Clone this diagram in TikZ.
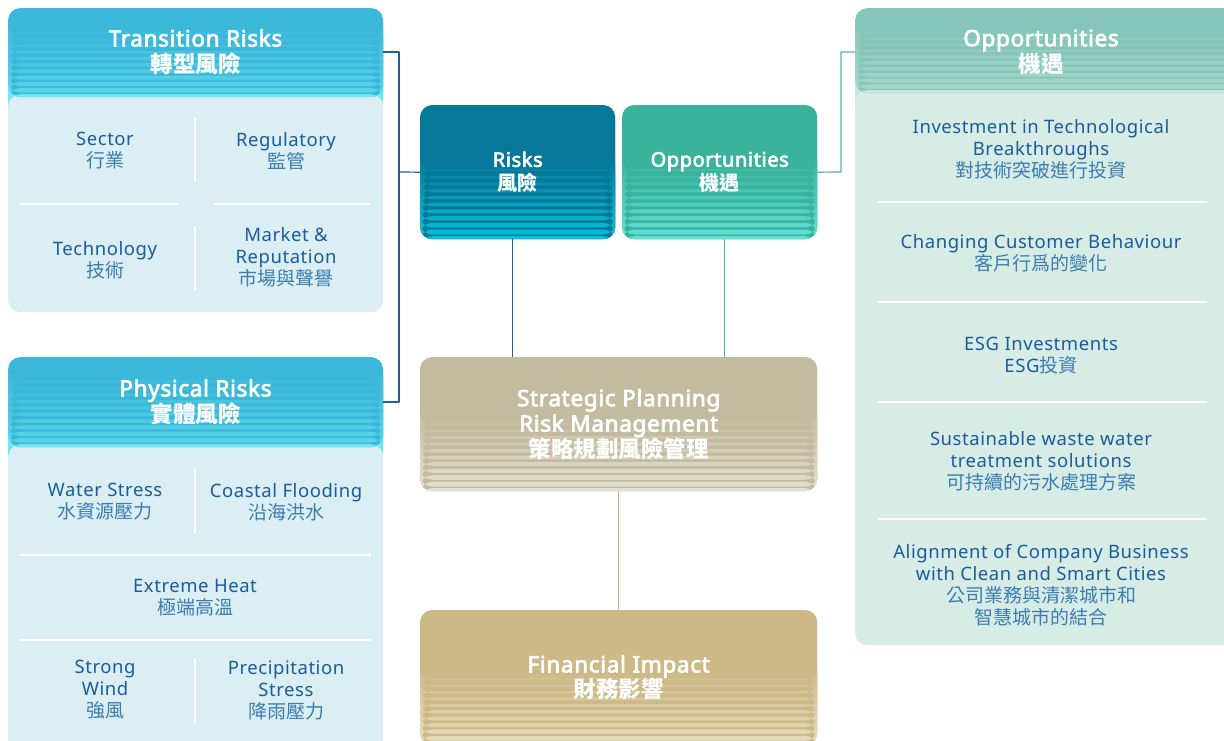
\documentclass[tikz,border=0pt]{standalone}
\usepackage{fontspec}
\setmainfont{Noto Sans}[LetterSpace=3]
\newfontfamily\hdfont{Noto Sans}[LetterSpace=3,FakeBold=3.2]
\newfontfamily\cjk{Noto Sans CJK TC}
\definecolor{trbase}{HTML}{3BB7D9}
\definecolor{trlight}{HTML}{5AD8EA}
\definecolor{trrim}{HTML}{6EE8F3}
\definecolor{trbody}{HTML}{DAEEF3}
\definecolor{opbase}{HTML}{86C5B9}
\definecolor{oplight}{HTML}{A8DACE}
\definecolor{oprim}{HTML}{C4E6DD}
\definecolor{opbody}{HTML}{D8ECE6}
\definecolor{rkbase}{HTML}{06799B}
\definecolor{rklight}{HTML}{06C4DC}
\definecolor{gnbase}{HTML}{3AB39C}
\definecolor{gnlight}{HTML}{62E3D6}
\definecolor{stbase}{HTML}{C2BB9F}
\definecolor{stlight}{HTML}{E6E2D3}
\definecolor{fnbase}{HTML}{CDB888}
\definecolor{fnlight}{HTML}{E9DFC2}
\definecolor{txblue}{HTML}{1A5C9C}
\definecolor{zhblue}{HTML}{3C7DB0}
\definecolor{rline}{HTML}{1F5FA3}
\definecolor{oline}{HTML}{4DB6A6}
\definecolor{tline}{HTML}{C8B48C}
% banded fill of a header: start of bands, height, base, light, rim
\newcommand\stripes[5]{%
  \fill[#3] (path picture bounding box.north west) rectangle ([yshift=-#2pt]path picture bounding box.north east);
  \foreach \k in {0,...,9}{%
    \pgfmathsetmacro\ya{#1+(#2-#1-3)*\k/10}%
    \pgfmathsetmacro\hb{(#2-#1-3)/10*(0.3+0.05*\k)}%
    \pgfmathtruncatemacro\mx{15+8*\k}%
    \fill[#4!\mx!#3] ([yshift=-\ya pt]path picture bounding box.north west) rectangle ([yshift=-\ya pt-\hb pt]path picture bounding box.north east);
  }
  \fill[#5] ([yshift=-#2pt+3pt]path picture bounding box.north west) rectangle ([yshift=-#2pt]path picture bounding box.north east);
}
\newcommand\zh[1]{{\cjk\fontsize{19}{22}\selectfont\color{zhblue}#1}}
\begin{document}
\begin{tikzpicture}[x=1pt,y=-1pt,line join=round,
    panel/.style={rounded corners=12pt,fill=#1,inner sep=0pt,anchor=north west},
    box/.style={rounded corners=12pt,fill=#1,inner sep=0pt,anchor=north west,text=white,align=center,
      font=\hdfont\fontsize{22.5}{25.5}\selectfont},
    title/.style={text=white,align=center,font=\hdfont\fontsize{22.5}{26}\selectfont},
    item/.style={text=txblue,align=center,font=\fontsize{18.5}{22}\selectfont},
    sep/.style={white,line width=2pt},
    rl/.style={rline,line width=1.2pt},
    ol/.style={oline,line width=1.2pt},
    tl/.style={tline,line width=1.2pt}]
\useasboundingbox (0,0) rectangle (1224,741);
% side panels
\node[panel=trbody,minimum width=375pt,minimum height=304pt,
  path picture={\stripes{24}{89}{trbase}{trlight}{trrim}}] (trpanel) at (8,8) {};
\node[panel=trbody,minimum width=375pt,minimum height=400pt,
  path picture={\stripes{24}{90}{trbase}{trlight}{trrim}}] (phpanel) at (8,357) {};
\node[panel=opbody,minimum width=400pt,minimum height=637pt,
  path picture={\stripes{24}{85}{opbase}{oplight}{oprim}}] (oppanel) at (855,8) {};
\node[title] (trtitle) at (195.5,52) {Transition Risks\\{\cjk\bfseries 轉型風險}};
\node[title] (phtitle) at (195.5,402) {Physical Risks\\{\cjk\bfseries 實體風險}};
\node[title] (optitle) at (1041,52) {Opportunities\\{\cjk\bfseries 機遇}};
% dividers
\draw[sep] (195,118)--(195,182) (195,227)--(195,290) (20,204)--(178,204) (213,204)--(371,204);
\draw[sep] (195,469)--(195,533) (20,555)--(371,555) (20,640)--(371,640) (195,659)--(195,723);
\foreach \y in {202,302,402,519} \draw[sep] (878,\y)--(1207,\y);
% items
\node[item] (sector) at (105,151) {Sector\\\zh{行業}};
\node[item] (regul) at (286,151) {Regulatory\\\zh{監管}};
\node[item] (techn) at (105,260) {Technology\\\zh{技術}};
\node[item] (market) at (286,257) {Market \&\\Reputation\\\zh{市場與聲譽}};
\node[item] (water) at (105,502) {Water Stress\\\zh{水資源壓力}};
\node[item] (coast) at (286,502) {Coastal Flooding\\\zh{沿海洪水}};
\node[item] (heat) at (195,598) {Extreme Heat\\\zh{極端高溫}};
\node[item] (wind) at (105,690) {Strong\\Wind\\\zh{強風}};
\node[item] (precip) at (286,690) {Precipitation\\Stress\\\zh{降雨壓力}};
\node[item] (invest) at (1041,149) {Investment in Technological\\Breakthroughs\\\zh{對技術突破進行投資}};
\node[item] (custom) at (1041,253) {Changing Customer Behaviour\\\zh{客戶行爲的變化}};
\node[item] (esg) at (1041,356) {ESG Investments\\ESG\zh{投資}};
\node[item] (waste) at (1041,461) {Sustainable waste water\\treatment solutions\\\zh{可持續的污水處理方案}};
\node[item] (align) at (1041,585) {Alignment of Company Business\\with Clean and Smart Cities\\\zh{公司業務與清潔城市和}\\\zh{智慧城市的結合}};
% centre boxes
\node[box=rkbase,minimum width=195pt,minimum height=134pt,font=\hdfont\fontsize{20}{24}\selectfont,
  path picture={\stripes{64}{134}{rkbase}{rklight}{rklight}}] (risks) at (420,105) {Risks\\{\cjk\bfseries 風險}};
\node[box=gnbase,minimum width=195pt,minimum height=134pt,font=\hdfont\fontsize{20}{24}\selectfont,
  path picture={\stripes{64}{134}{gnbase}{gnlight}{gnlight}}] (opps) at (622,105) {Opportunities\\{\cjk\bfseries 機遇}};
\node[box=stbase,minimum width=397pt,minimum height=134pt,
  path picture={\stripes{66}{134}{stbase}{stlight}{stlight}}] (strat) at (420,357) {Strategic Planning\\Risk Management\\{\cjk\bfseries 策略規劃風險管理}};
\node[box=fnbase,minimum width=397pt,minimum height=135pt,
  path picture={\stripes{68}{135}{fnbase}{fnlight}{fnlight}}] (fin) at (420,610) {Financial Impact\\{\cjk\bfseries 財務影響}};
% connectors
\coordinate (lj) at (399,172);
\coordinate (rj) at (841,172);
\draw[rl] (trpanel.east |- trtitle) -| (lj) |- (phpanel.east |- phtitle);
\draw[rl] (lj) -- (risks.west);
\draw[ol] (opps.east) -- (rj) |- (oppanel.west |- optitle);
\draw[rl] ([xshift=-5pt]risks.south) -- ([xshift=-5pt]risks.south |- strat.north);
\draw[ol] ([xshift=5pt]opps.south) -- ([xshift=5pt]opps.south |- strat.north);
\draw[tl] (strat.south) -- (fin.north);
\end{tikzpicture}
\end{document}
